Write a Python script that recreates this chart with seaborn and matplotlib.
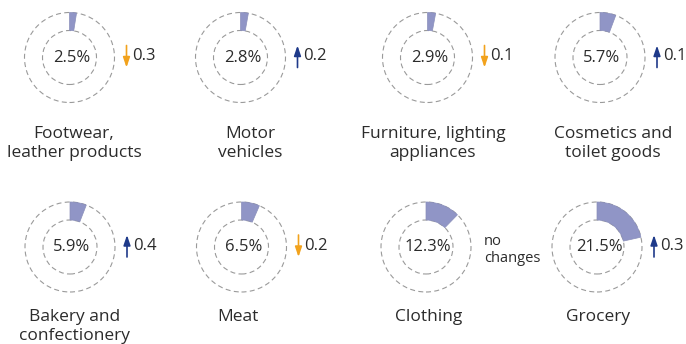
import matplotlib
matplotlib.use("Agg")
import matplotlib.pyplot as plt
from matplotlib.patches import Circle
import seaborn as sns

sns.set_theme(style="white")
plt.rcParams["font.family"] = ["Open Sans", "DejaVu Sans"]

# Share of each category in retail turnover (%) and change vs. previous period (p.p.)
categories = ["Footwear,\nleather products", "Motor\nvehicles", "Furniture, lighting\nappliances",
              "Cosmetics and\ntoilet goods", "Bakery and\nconfectionery", "Meat", "Clothing", "Grocery"]
shares = [2.5, 2.8, 2.9, 5.7, 5.9, 6.5, 12.3, 21.5]
changes = [-0.3, 0.2, -0.1, 0.1, 0.4, -0.2, 0.0, 0.3]

# Layout in figure pixels (y measured from the top)
cx = [69.5, 240.5, 427.5, 600, 70, 241.5, 426, 597]
cy = [57.5] * 4 + [247] * 4
label_x = [74, 250, 433, 613, 75, 238, 429, 598]
label_top = [126] * 4 + [309] * 4

W, H = 686, 344
R_OUT, R_IN = 45, 27
WEDGE = "#9095c6"
RING = "#9a9a9a"
TEXT = "#2b2b2b"
DOWN = "#f2a21c"
UP = "#1f3a8a"

fig = plt.figure(figsize=(W / 100, H / 100), dpi=100)
ax = fig.add_axes([0, 0, 1, 1])

for i, (cat, share, chg) in enumerate(zip(categories, shares, changes)):
    x, y = cx[i], H - cy[i]
    for r in (R_OUT, R_IN):
        ax.add_patch(Circle((x, y), r, fill=False, edgecolor=RING, linewidth=0.8,
                            linestyle=(0, (4.5, 3)), zorder=0.5))
    wedges, _ = ax.pie([share, 100 - share], colors=[WEDGE, "none"], startangle=90,
                       counterclock=False, radius=R_OUT, center=(x, y), frame=True,
                       wedgeprops=dict(width=R_OUT - R_IN, zorder=2))
    wedges[0].set_edgecolor("#8a8fba")
    wedges[0].set_linewidth(0.5)
    wedges[1].set_linewidth(0)
    ax.text(x + 2, y, f"{share:.1f}%", ha="center", va="center", fontsize=12, color=TEXT)

    ax_x = x + 57
    if chg == 0:
        ax.text(ax_x + 1, y - 3, "no\nchanges", ha="left", va="center", fontsize=10.5,
                color=TEXT, linespacing=1.25)
    else:
        color = UP if chg > 0 else DOWN
        start, end = (y - 10, y + 12) if chg > 0 else (y + 12, y - 10)
        ax.annotate("", xy=(ax_x, end), xytext=(ax_x, start),
                    arrowprops=dict(arrowstyle="-|>,head_length=0.5,head_width=0.17",
                                    color=color, lw=1.2, shrinkA=0, shrinkB=0))
        ax.text(ax_x + 6, y + 1, f"{abs(chg):.1f}", ha="left", va="center",
                fontsize=12, color=TEXT)

    ax.text(label_x[i], H - label_top[i], cat, ha="center", va="top", fontsize=12.5,
            color=TEXT, linespacing=1.25)

ax.set_xlim(0, W)
ax.set_ylim(0, H)
ax.set_aspect("equal")
ax.axis("off")

fig.savefig("out.png", dpi=100, facecolor="white")
